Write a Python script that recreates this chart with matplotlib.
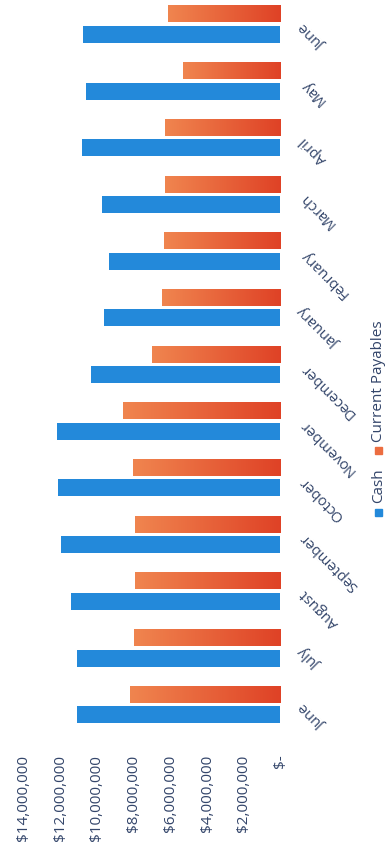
import numpy as np
import matplotlib.pyplot as plt
from matplotlib.ticker import FuncFormatter
from matplotlib.colors import LinearSegmentedColormap
from matplotlib.patches import Rectangle

# data (values in millions of dollars), first month at the bottom
months = ['June', 'July', 'August', 'September', 'October', 'November',
          'December', 'January', 'February', 'March', 'April', 'May', 'June']
cash = [11.1, 11.1, 11.4, 11.95, 12.1, 12.15, 10.3, 9.6, 9.35, 9.7, 10.8, 10.6, 10.75]
payables = [8.2, 8.0, 7.9, 7.9, 8.05, 8.6, 7.0, 6.45, 6.35, 6.3, 6.3, 5.3, 6.1]
value_ticks = [0, 2, 4, 6, 8, 10, 12, 14]

CASH_COLOR = '#2389DA'
TEXT_COLOR = '#33456A'

plt.rcParams['font.family'] = ['Open Sans', 'DejaVu Sans']

fig = plt.figure(figsize=(3.88, 8.53), dpi=100)
ax = fig.add_axes([23.3 / 388, 1 - 733.85 / 853, (280.5 - 23.3) / 388, 733.85 / 853])

y = np.arange(len(months))
cash_v = np.array(cash) * 1e6
pay_v = np.array(payables) * 1e6

ax.barh(y - 0.18, cash_v, height=0.3, color=CASH_COLOR, zorder=2)
pay_bars = ax.barh(y + 0.18, pay_v, height=0.3, color='#E8603A', zorder=2)

# orange bars fade from light (far end) to darker red (base)
cmap = LinearSegmentedColormap.from_list('pay', ['#F0854F', '#DF4226'])
grad = np.linspace(1, 0, 256).reshape(1, -1)
for bar in pay_bars:
    x0, y0 = bar.get_x(), bar.get_y()
    w, h = bar.get_width(), bar.get_height()
    im = ax.imshow(grad, cmap=cmap, extent=(x0, x0 + w, y0, y0 + h),
                   aspect='auto', zorder=3, interpolation='bilinear')
    im.set_clip_path(bar)

ax.set_xlim(14e6, 0)
ax.set_ylim(-0.5, 12.443)

ax.set_xticks([v * 1e6 for v in value_ticks])
ax.xaxis.set_major_formatter(FuncFormatter(lambda v, p: '$-' if v == 0 else f'${v:,.0f}'))
ax.tick_params(axis='x', length=0, pad=15, labelsize=11, labelcolor=TEXT_COLOR)
for lab in ax.get_xticklabels():
    lab.set_rotation(90)
    lab.set_va('top')

ax.yaxis.tick_right()
ax.set_yticks(y)
ax.set_yticklabels(months)
ax.tick_params(axis='y', length=0, pad=16, labelsize=10.5, labelcolor=TEXT_COLOR)
for lab in ax.get_yticklabels():
    lab.set_rotation(135)
    lab.set_rotation_mode('anchor')
    lab.set_ha('right')
    lab.set_va('center')

for s in ax.spines.values():
    s.set_visible(False)

# legend, rotated like the rest of the chart
fig.add_artist(Rectangle((375 / 388, 1 - 517 / 853), 7 / 388, 7 / 853,
                         transform=fig.transFigure, color=CASH_COLOR))
fig.text(371 / 388, 1 - 503 / 853, 'Cash', rotation=90, ha='left', va='bottom',
         fontsize=11, color=TEXT_COLOR)
fig.add_artist(Rectangle((375 / 388, 1 - 455 / 853), 7 / 388, 7 / 853,
                         transform=fig.transFigure, color='#EC6D40'))
fig.text(371 / 388, 1 - 442 / 853, 'Current Payables', rotation=90, ha='left',
         va='bottom', fontsize=11, color=TEXT_COLOR)

fig.savefig('out.png', dpi=100, facecolor='white')
